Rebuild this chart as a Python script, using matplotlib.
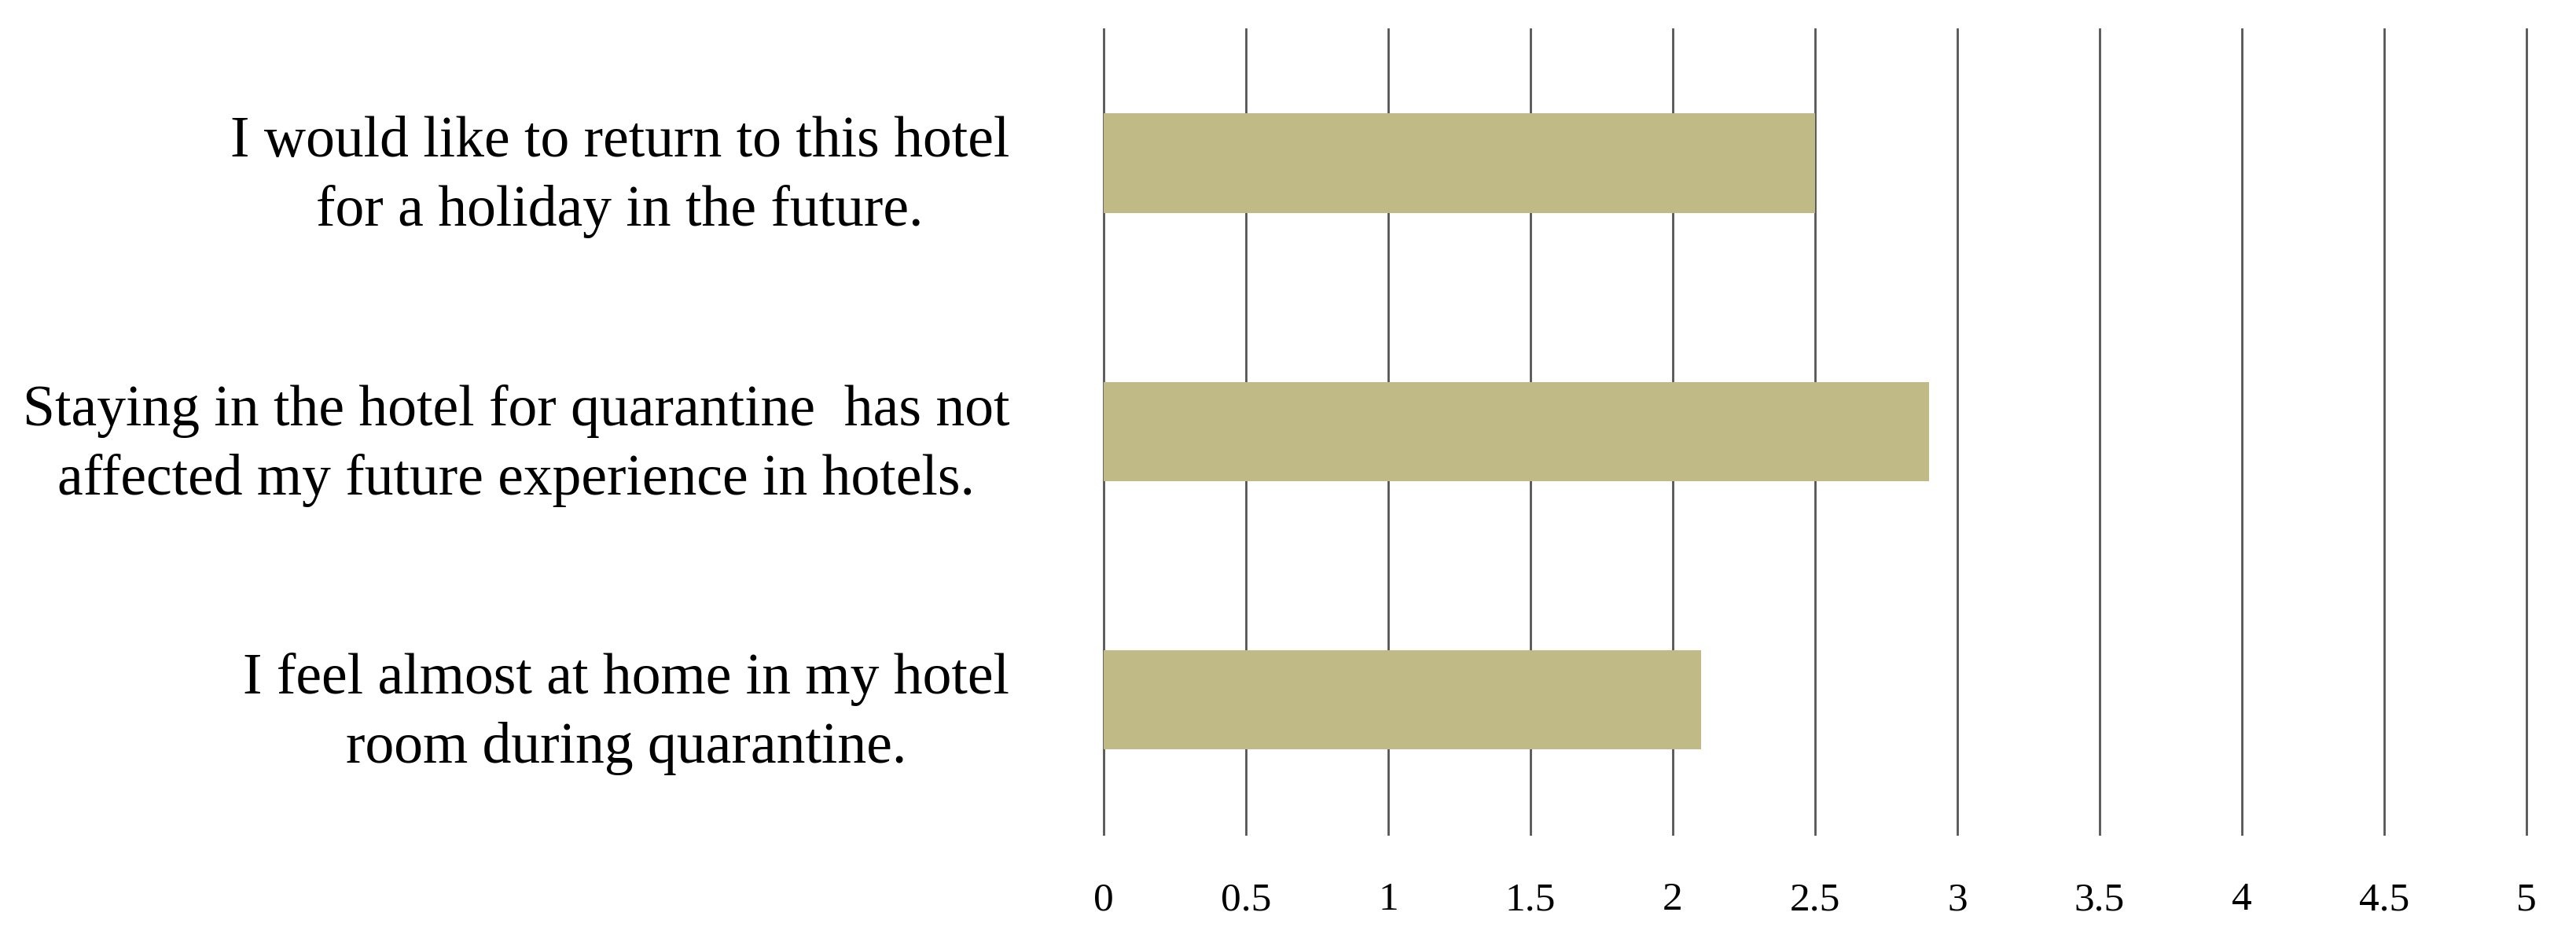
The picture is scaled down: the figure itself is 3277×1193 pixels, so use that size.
import matplotlib
matplotlib.use("Agg")
import matplotlib.pyplot as plt

categories = [
    "I would like to return to this hotel\nfor a holiday in the future.",
    "Staying in the hotel for quarantine  has not\naffected my future experience in hotels.",
    "I feel almost at home in my hotel\nroom during quarantine.",
]
values = [2.5, 2.9, 2.1]
xticks = [0, 0.5, 1, 1.5, 2, 2.5, 3, 3.5, 4, 4.5, 5]
xticklabels = ["0", "0.5", "1", "1.5", "2", "2.5", "3", "3.5", "4", "4.5", "5"]

plt.rcParams['font.family'] = ['Liberation Serif', 'DejaVu Serif']

fig = plt.figure(figsize=(32.77, 11.93), dpi=100)
ax = fig.add_axes([0.4284, 0.111, 0.9808 - 0.4284, 0.969 - 0.111])

ypos = list(range(len(categories)))
ax.barh(ypos, values, height=0.37, color="#BFBA86", zorder=3)
ax.set_ylim(len(categories) - 0.5, -0.5)
ax.set_xlim(0, 5)

ax.set_xticks(xticks)
ax.set_xticklabels(xticklabels, fontsize=37)
ax.set_yticks(ypos)
ax.set_yticklabels(categories, fontsize=53, multialignment='center', linespacing=1.38)

ax.xaxis.grid(True, color="#555555", linewidth=2.0, zorder=0)
ax.yaxis.grid(False)
for gl in ax.get_xgridlines():
    gl.set_clip_on(False)
for s in ax.spines.values():
    s.set_visible(False)
ax.tick_params(axis='x', length=0, pad=44)
ax.tick_params(axis='y', length=0, pad=86)

fig.savefig("out.png", dpi=100)
